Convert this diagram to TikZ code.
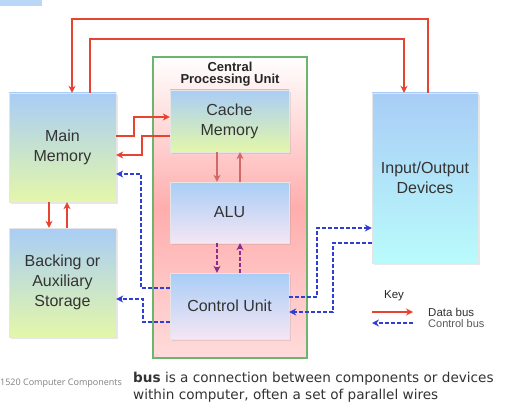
\documentclass[tikz,border=0pt]{standalone}
\usepackage{fontspec}
\setmainfont{Liberation Sans}
\newfontfamily\notefont{DejaVu Sans}
\newfontfamily\capfont{Open Sans}
\usepackage{tikz}
\usetikzlibrary{arrows.meta,shadows}
\definecolor{datared}{HTML}{E8432E}
\definecolor{dullred}{HTML}{CF6A66}
\definecolor{ctrlblue}{HTML}{2F3FD3}
\definecolor{ctrlpurple}{HTML}{8A2D8C}
\definecolor{cpugreen}{HTML}{6DB46D}
\definecolor{boxblue}{HTML}{A9CDF6}
\definecolor{boxlime}{HTML}{E4F7A9}
\definecolor{boxpink}{HTML}{F5E6F4}
\definecolor{boxcyan}{HTML}{B9FBFB}

\begin{document}
\begin{tikzpicture}[x=1pt,y=-1pt,
    unit/.style={draw=gray!20, line width=0.4pt, align=center, text=black!80,
        font=\fontsize{16}{20}\selectfont,
        drop shadow={shadow xshift=2pt,shadow yshift=-2pt,opacity=0.18}},
    databus/.style={draw=datared, line width=1.6pt, -{Stealth[length=7pt,width=7pt]}},
    innerbus/.style={draw=dullred, line width=1.6pt, -{Stealth[length=7pt,width=7pt]}},
    ctrlbus/.style={draw=ctrlblue, line width=1.5pt, dash pattern=on 4pt off 2pt,
        -{Stealth[length=7pt,width=7pt]}},
    cubus/.style={draw=ctrlpurple, line width=1.5pt, dash pattern=on 4pt off 2pt,
        -{Stealth[length=7pt,width=7pt]}}]
    \useasboundingbox (0,0) rectangle (524,414);
    \fill[white] (0,0) rectangle (524,414);
    \fill[boxblue!80] (0,0) rectangle (42,6);

    \node[draw=cpugreen, line width=2.5pt, minimum width=154pt, minimum height=301pt,
        top color=white, bottom color=red!14, middle color=red!32] (cpu) at (230,207.5) {};
    \node[font=\bfseries\fontsize{13}{12.5}\selectfont, align=center, text=black!85] (cpulbl) at (230,74) {Central\\Processing Unit};

    \node[unit, minimum width=107pt, minimum height=109pt, top color=boxblue, bottom color=boxlime] (mm) at (62.5,147.5) {Main\\Memory};
    \node[unit, minimum width=107pt, minimum height=109pt, top color=boxblue, bottom color=boxlime] (bk) at (62.5,282.5) {Backing or\\Auxiliary\\Storage};
    \node[unit, minimum width=119pt, minimum height=62pt, top color=boxblue, bottom color=boxlime] (cache) at (229.5,121) {Cache\\Memory};
    \node[unit, minimum width=119pt, minimum height=61pt, top color=boxblue, bottom color=boxpink] (alu) at (229.5,212.5) {ALU};
    \node[unit, minimum width=119pt, minimum height=66pt, top color=boxblue, bottom color=boxpink] (cu) at (229.5,306) {Control Unit};
    \node[unit, minimum width=106pt, minimum height=170pt, top color=boxblue, bottom color=boxcyan] (io) at (425,178) {Input/Output\\Devices};

    \coordinate (top1) at (72,19);
    \coordinate (top2) at (404,39);
    \draw[databus] ([xshift=3pt]io.north) |- (top1) -- ([xshift=9.5pt]mm.north);
    \draw[databus] ([xshift=27.5pt]mm.north) |- (top2) -- ([xshift=-21pt]io.north);
    \draw[databus] ([yshift=11.5pt]mm.east) -- ++(18,0) |- ([yshift=4pt]cache.west);
    \draw[databus] ([yshift=-15pt]cache.west) -- ++(-28,0) |- ([yshift=-7.5pt]mm.east);
    \draw[databus] ([xshift=-13.5pt]mm.south) -- ([xshift=-13.5pt]bk.north);
    \draw[databus] ([xshift=4.5pt]bk.north) -- ([xshift=4.5pt]mm.south);
    \draw[innerbus] ([xshift=-12.5pt]cache.south) -- ([xshift=-12.5pt]alu.north);
    \draw[innerbus] ([xshift=10.5pt]alu.north) -- ([xshift=10.5pt]cache.south);

    \draw[ctrlbus] ([yshift=18pt]cu.west) -- ++(-29,0) |- ([yshift=-26.5pt]mm.east);
    \draw[ctrlbus] ([yshift=-16pt]cu.west) -- ++(-27,0) |- ([yshift=-16.5pt]bk.east);
    \draw[ctrlbus] ([yshift=9pt]cu.east) -- ++(28,0) |- ([yshift=-50pt]io.west);
    \draw[ctrlbus] ([yshift=-65pt]io.west) -- ++(-39,0) |- ([yshift=-6pt]cu.east);
    \draw[cubus] ([xshift=-12.5pt]alu.south) -- ([xshift=-12.5pt]cu.north);
    \draw[cubus] ([xshift=10.5pt]cu.north) -- ([xshift=10.5pt]alu.south);

    \node[font=\fontsize{11.5}{13}\selectfont, text=black!85] (key) at (394,296) {Key};
    \coordinate (kd1) at (372,312);
    \coordinate (kd2) at (413,312);
    \coordinate (kc1) at (413,323);
    \coordinate (kc2) at (372,323);
    \draw[databus] (kd1) -- (kd2);
    \draw[ctrlbus] (kc1) -- (kc2);
    \node[anchor=west, inner sep=0pt, font=\fontsize{11.5}{13}\selectfont, text=black!80] (kdata) at (428,312) {Data bus};
    \node[anchor=west, inner sep=0pt, font=\fontsize{11}{13}\selectfont, text=black!65] (kctrl) at (428,324) {Control bus};

    \node[anchor=west, inner sep=0pt, font=\capfont\fontsize{9}{10}\selectfont, text=black!50] (cap) at (0,383) {1520 Computer Components};
    \node[anchor=north west, inner sep=0pt, align=left, text=black!80,
        font=\notefont\fontsize{13.6}{17}\selectfont] (note) at (133,372) {\textbf{bus} is a connection between components or devices\\within computer, often a set of parallel wires};
\end{tikzpicture}
\end{document}
